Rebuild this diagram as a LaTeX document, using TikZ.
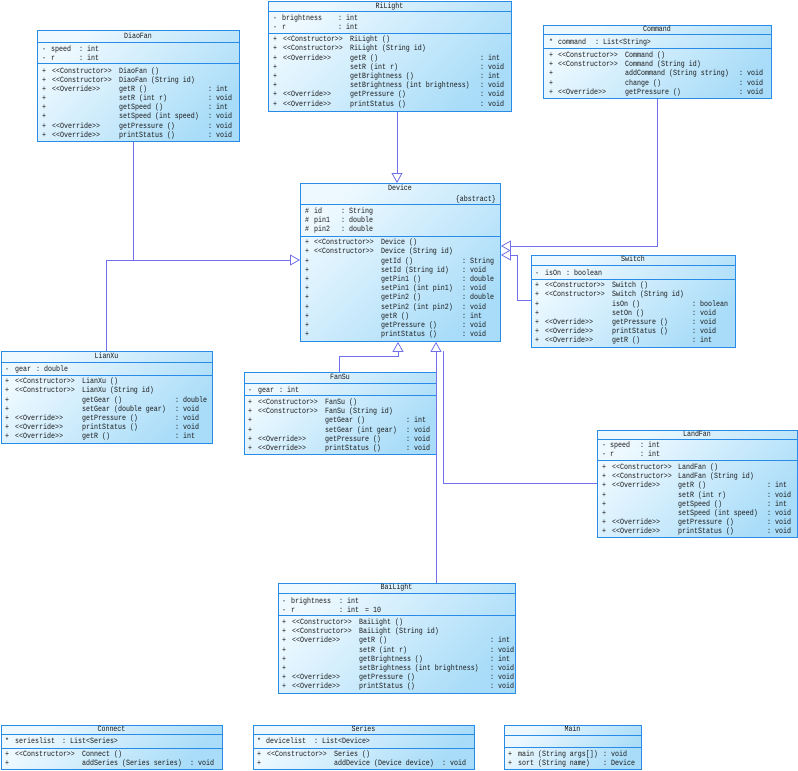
\documentclass[tikz,border=0pt]{standalone}
\usepackage{fontspec}
\setmonofont[FakeStretch=0.83]{Liberation Mono}
\usetikzlibrary{arrows.meta}
\definecolor{boxB}{RGB}{40,140,230}
\definecolor{boxL}{RGB}{238,249,255}
\definecolor{boxD}{RGB}{168,220,248}
\definecolor{genC}{RGB}{112,112,232}
\definecolor{txtC}{RGB}{25,25,25}
\newcounter{tn}
\newcommand\tx[3]{\if\relax\detokenize{#3}\relax\else\stepcounter{tn}\node[txt] (t\arabic{tn}) at (#1,#2) {#3};\fi}
\newcommand\ttl[3]{\stepcounter{tn}\node[txt,anchor=base] (t\arabic{tn}) at (#1,#2) {#3};}
\newcommand\cols[4]{\def\cP{#1}\def\cS{#2}\def\cN{#3}\def\cC{#4}}
\newcommand\mrow[4]{\tx{\cP}{#1}{+}\tx{\cS}{#1}{#2}\tx{\cN}{#1}{#3}\tx{\cC}{#1}{#4}}
\newcommand\classbox[7]{%
  \node[umlbox,minimum width=#4pt,minimum height=#5pt,anchor=north west] (#1) at (#2,#3) {};
  \draw[sepline] (#2,#6) -- ++(#4,0);
  \draw[sepline] (#2,#7) -- ++(#4,0);}
\def\Con{<<Constructor>>}
\def\Ovr{<<Override>>}
\begin{document}
\begin{tikzpicture}[x=1pt,y=-1pt,
  umlbox/.style={draw=boxB,line width=0.9pt,inner sep=0pt,shade,top color=boxL,bottom color=boxD,shading angle=45},
  sepline/.style={draw=boxB,line width=0.9pt},
  txt/.style={anchor=base west,inner sep=0pt,text=txtC,font=\ttfamily\fontsize{8}{8}\selectfont},
  gen/.style={draw=genC,line width=0.8pt,-{Triangle[length=10pt,width=11pt,fill=white,line width=0.8pt]}},
  genline/.style={draw=genC,line width=0.8pt}]
\useasboundingbox (0,0) rectangle (798,771);

% ---------------- connectors ----------------
\coordinate (dfb) at (133,260);
\coordinate (lxb) at (106,260);
\coordinate (cmb) at (657,246);
\coordinate (swa) at (517,300);
\coordinate (swb) at (517,255);
\coordinate (fsa) at (339,356);
\coordinate (fsb) at (398,356);
\coordinate (lfa) at (443,483);
\coordinate (lfb) at (443,351);

% ---------------- boxes ----------------
\classbox{DiaoFan}{37}{30}{202}{111}{42}{63}
\classbox{RiLight}{268}{1}{243}{110}{11}{33}
\classbox{Command}{543}{25}{228}{73}{34}{48}
\classbox{Device}{300}{183}{200}{158}{204}{236}
\classbox{Switch}{531}{255}{204}{92}{265}{279}
\classbox{LianXu}{1}{351}{211}{92}{362}{375}
\classbox{FanSu}{244}{372}{192}{82}{383}{395}
\classbox{LandFan}{597}{430}{200}{107}{439}{460}
\classbox{BaiLight}{278}{583}{237}{110}{593}{615}
\classbox{Connect}{1}{725}{221}{44}{734}{748}
\classbox{Series}{253}{725}{221}{44}{734}{748}
\classbox{Main}{504}{725}{137}{44}{735}{747}

\draw[gen] (RiLight.south -| 397,0) -- (Device.north -| 397,0);
\draw[gen] (DiaoFan.south -| dfb) -- (dfb) -- (Device.west |- dfb);
\draw[genline] (LianXu.north -| lxb) -- (lxb) -- (dfb);
\draw[gen] (Command.south -| cmb) -- (cmb) -- (Device.east |- cmb);
\draw[gen] (Switch.west |- swa) -- (swa) -- (swb) -- (Device.east |- swb);
\draw[gen] (FanSu.north -| fsa) -- (fsa) -- (fsb) -- (Device.south -| fsb);
\draw[gen] (BaiLight.north -| 436,0) -- (Device.south -| 436,0);
\draw[genline] (LandFan.west |- lfa) -- (lfa) -- (lfb);

% ---------------- DiaoFan ----------------
\ttl{138}{38.5}{DiaoFan}
\tx{42}{51.2}{-}\tx{51}{51.2}{speed}\tx{79}{51.2}{: int}
\tx{42}{60}{-}\tx{51}{60}{r}\tx{79}{60}{: int}
\cols{42}{52}{119}{208}
\mrow{73.2}{\Con}{DiaoFan ()}{}
\mrow{82.3}{\Con}{DiaoFan (String id)}{}
\mrow{91.5}{\Ovr}{getR ()}{: int}
\mrow{100.6}{}{setR (int r)}{: void}
\mrow{109.8}{}{getSpeed ()}{: int}
\mrow{118.9}{}{setSpeed (int speed)}{: void}
\mrow{128.0}{\Ovr}{getPressure ()}{: void}
\mrow{137.2}{\Ovr}{printStatus ()}{: void}

% ---------------- RiLight ----------------
\ttl{389.5}{8.5}{RiLight}
\tx{273}{20.8}{-}\tx{282}{20.8}{brightness}\tx{338}{20.8}{: int}
\tx{273}{29.5}{-}\tx{282}{29.5}{r}\tx{338}{29.5}{: int}
\cols{273}{283}{350}{480}
\mrow{41.7}{\Con}{RiLight ()}{}
\mrow{50.9}{\Con}{RiLight (String id)}{}
\mrow{60.1}{\Ovr}{getR ()}{: int}
\mrow{69.3}{}{setR (int r)}{: void}
\mrow{78.5}{}{getBrightness ()}{: int}
\mrow{87.7}{}{setBrightness (int brightness)}{: void}
\mrow{96.9}{\Ovr}{getPressure ()}{: void}
\mrow{106.1}{\Ovr}{printStatus ()}{: void}

% ---------------- Command ----------------
\ttl{657}{31.8}{Command}
\tx{549}{44.5}{*}\tx{558}{44.5}{command}\tx{595}{44.5}{: List<String>}
\cols{549}{558}{625}{739}
\mrow{57.5}{\Con}{Command ()}{}
\mrow{66.7}{\Con}{Command (String id)}{}
\mrow{75.9}{}{addCommand (String string)}{: void}
\mrow{85.1}{}{change ()}{: void}
\mrow{94.3}{\Ovr}{getPressure ()}{: void}

% ---------------- Device ----------------
\ttl{400}{190.5}{Device}
\stepcounter{tn}\node[txt,anchor=base east] (t\arabic{tn}) at (496,201.5) {\{abstract\}};
\tx{305}{213.5}{\#}\tx{314}{213.5}{id}\tx{341}{213.5}{: String}
\tx{305}{222.5}{\#}\tx{314}{222.5}{pin1}\tx{341}{222.5}{: double}
\tx{305}{231.5}{\#}\tx{314}{231.5}{pin2}\tx{341}{231.5}{: double}
\cols{305}{314}{381}{462}
\mrow{244.7}{\Con}{Device ()}{}
\mrow{253.9}{\Con}{Device (String id)}{}
\mrow{263.1}{}{getId ()}{: String}
\mrow{272.3}{}{setId (String id)}{: void}
\mrow{281.5}{}{getPin1 ()}{: double}
\mrow{290.7}{}{setPin1 (int pin1)}{: void}
\mrow{299.9}{}{getPin2 ()}{: double}
\mrow{309.1}{}{setPin2 (int pin2)}{: void}
\mrow{318.3}{}{getR ()}{: int}
\mrow{327.5}{}{getPressure ()}{: void}
\mrow{336.7}{}{printStatus ()}{: void}

% ---------------- Switch ----------------
\ttl{633}{261.5}{Switch}
\tx{535}{275.5}{-}\tx{545}{275.5}{isOn}\tx{566}{275.5}{: boolean}
\cols{535}{545}{612}{692}
\mrow{287.7}{\Con}{Switch ()}{}
\mrow{296.9}{\Con}{Switch (String id)}{}
\mrow{306.1}{}{isOn ()}{: boolean}
\mrow{315.3}{}{setOn ()}{: void}
\mrow{324.5}{\Ovr}{getPressure ()}{: void}
\mrow{333.7}{\Ovr}{printStatus ()}{: void}
\mrow{342.9}{\Ovr}{getR ()}{: int}

% ---------------- LianXu ----------------
\ttl{106.5}{358.5}{LianXu}
\tx{5}{371.5}{-}\tx{15}{371.5}{gear}\tx{36}{371.5}{: double}
\cols{5}{15}{82}{175}
\mrow{383.7}{\Con}{LianXu ()}{}
\mrow{392.9}{\Con}{LianXu (String id)}{}
\mrow{402.1}{}{getGear ()}{: double}
\mrow{411.3}{}{setGear (double gear)}{: void}
\mrow{420.5}{\Ovr}{getPressure ()}{: void}
\mrow{429.7}{\Ovr}{printStatus ()}{: void}
\mrow{438.9}{\Ovr}{getR ()}{: int}

% ---------------- FanSu ----------------
\ttl{340}{379.5}{FanSu}
\tx{248}{392.5}{-}\tx{258}{392.5}{gear}\tx{279}{392.5}{: int}
\cols{248}{258}{325}{406}
\mrow{404.5}{\Con}{FanSu ()}{}
\mrow{413.7}{\Con}{FanSu (String id)}{}
\mrow{422.9}{}{getGear ()}{: int}
\mrow{432.1}{}{setGear (int gear)}{: void}
\mrow{441.3}{\Ovr}{getPressure ()}{: void}
\mrow{450.5}{\Ovr}{printStatus ()}{: void}

% ---------------- LandFan ----------------
\ttl{697}{436.5}{LandFan}
\tx{602}{447.5}{-}\tx{610}{447.5}{speed}\tx{640}{447.5}{: int}
\tx{602}{456.5}{-}\tx{610}{456.5}{r}\tx{640}{456.5}{: int}
\cols{602}{612}{678}{767}
\mrow{469.5}{\Con}{LandFan ()}{}
\mrow{478.7}{\Con}{LandFan (String id)}{}
\mrow{487.9}{\Ovr}{getR ()}{: int}
\mrow{497.1}{}{setR (int r)}{: void}
\mrow{506.3}{}{getSpeed ()}{: int}
\mrow{515.5}{}{setSpeed (int speed)}{: void}
\mrow{524.7}{\Ovr}{getPressure ()}{: void}
\mrow{533.9}{\Ovr}{printStatus ()}{: void}

% ---------------- BaiLight ----------------
\ttl{396.5}{589.5}{BaiLight}
\tx{282}{603.3}{-}\tx{291}{603.3}{brightness}\tx{339}{603.3}{: int}
\tx{282}{612}{-}\tx{291}{612}{r}\tx{339}{612}{: int}\tx{365}{612}{= 10}
\cols{282}{292}{359}{490}
\mrow{624.5}{\Con}{BaiLight ()}{}
\mrow{633.7}{\Con}{BaiLight (String id)}{}
\mrow{642.9}{\Ovr}{getR ()}{: int}
\mrow{652.1}{}{setR (int r)}{: void}
\mrow{661.3}{}{getBrightness ()}{: int}
\mrow{670.5}{}{setBrightness (int brightness)}{: void}
\mrow{679.7}{\Ovr}{getPressure ()}{: void}
\mrow{688.9}{\Ovr}{printStatus ()}{: void}

% ---------------- Connect ----------------
\ttl{111.5}{731.5}{Connect}
\tx{5}{743.5}{*}\tx{15}{743.5}{serieslist}\tx{62}{743.5}{: List<Series>}
\cols{5}{15}{82}{190}
\mrow{756.5}{\Con}{Connect ()}{}
\mrow{765.5}{}{addSeries (Series series)}{: void}

% ---------------- Series ----------------
\ttl{363.5}{731.5}{Series}
\tx{257}{743.5}{*}\tx{266}{743.5}{devicelist}\tx{314}{743.5}{: List<Device>}
\cols{257}{267}{334}{442}
\mrow{756.5}{\Con}{Series ()}{}
\mrow{765.5}{}{addDevice (Device device)}{: void}

% ---------------- Main ----------------
\ttl{572.5}{731.5}{Main}
\tx{508}{756.5}{+}\tx{518}{756.5}{main (String args[])}\tx{603}{756.5}{: void}
\tx{508}{765.5}{+}\tx{518}{765.5}{sort (String name)}\tx{603}{765.5}{: Device}
\end{tikzpicture}
\end{document}
